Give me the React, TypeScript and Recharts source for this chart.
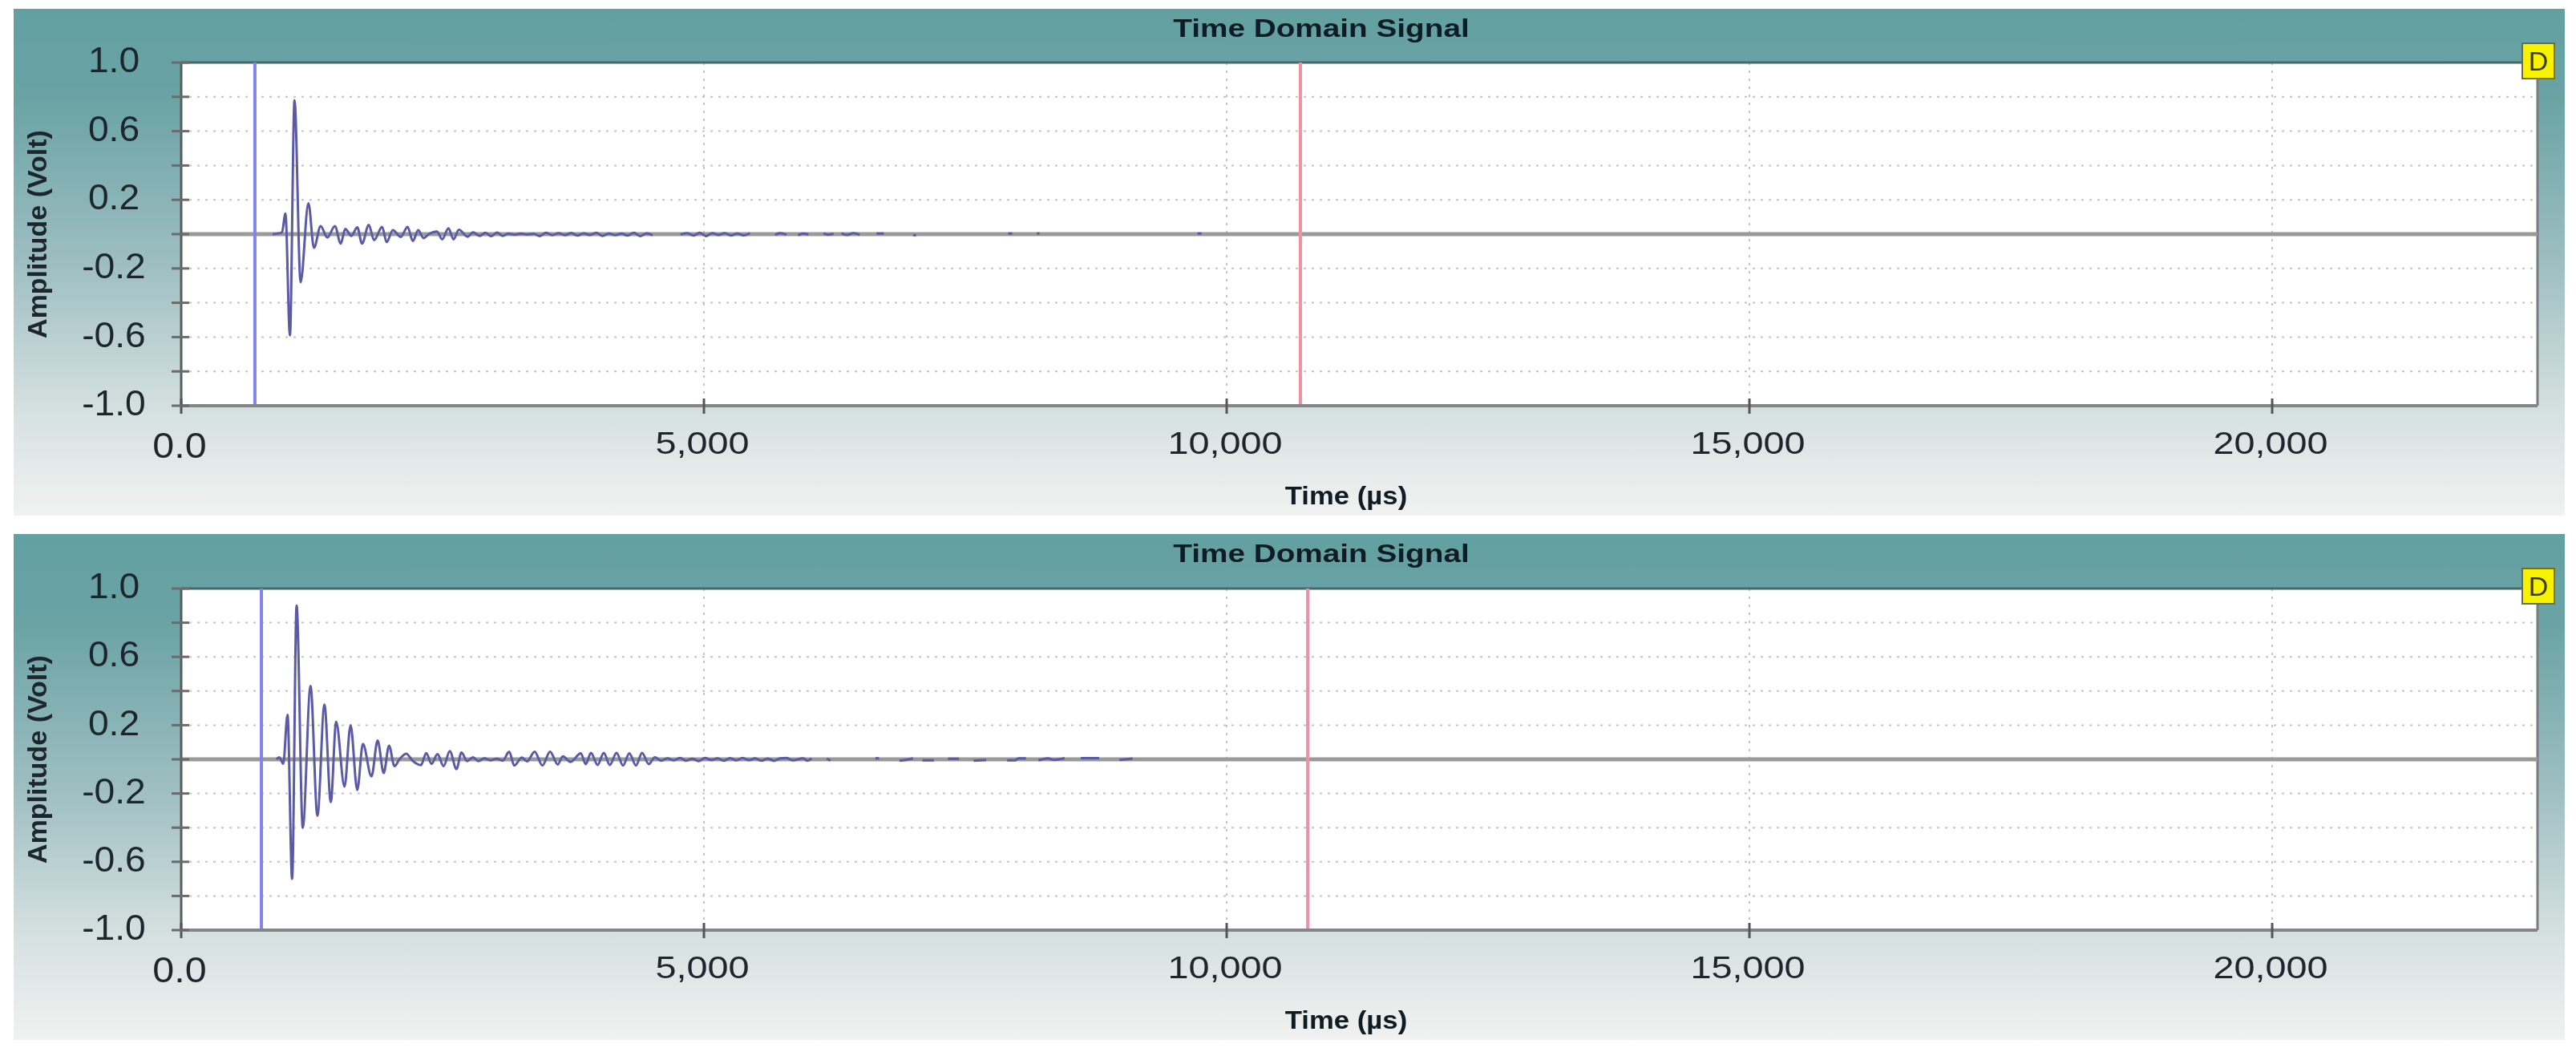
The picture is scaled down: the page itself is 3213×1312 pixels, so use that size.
import React from "react"
import { LineChart, Line, XAxis, YAxis, CartesianGrid, ReferenceLine } from "recharts"

const xTicks = [0, 5000, 10000, 15000, 20000]
const xMax = 22538
const yTicks = [-1, -0.8, -0.6, -0.4, -0.2, 0, 0.2, 0.4, 0.6, 0.8, 1]
const yLabelled = [-1, -0.6, -0.2, 0.2, 0.6, 1]

// null = gap where the trace hides in the zero line
const topTimes = [
  874, 964, 997, 1040, 1084, 1142, 1217, 1270, 1334, 1398, 1470, 1526, 1569, 1628, 1684, 1730, 1794, 1845, 1922, 1965,
  2024, 2101, 2165, 2216, 2267, 2318, 2369, 2446, 2497, 2556, 2605, 2656, 2740, 2791, 2855, 2910, 2965, 3020, 3075,
  3130, 3190, 3250, 3310, 3370, 3430, 3490, 3550, 3610, 3670, 3730, 3790, 3850, 3910, 3970, 4030, 4090, 4150, 4210,
  4270, 4330, 4390, 4450, 4510, 4640, 4775, 4840, 4900, 4960, 5020, 5080, 5140, 5200, 5260, 5320, 5380, 5440, 5560,
  5680, 5730, 5790, 5850, 5900, 5950, 6000, 6070, 6144, 6190, 6240, 6280, 6315, 6370, 6430, 6490, 6570, 6650, 6690,
  6720, 6860, 7000, 7030, 7500, 7910, 7950, 8070, 8185, 8210, 9000, 9720, 9760,
]
const topVolts = [
  0, 0.01, 0.12, -0.59, 0.78, -0.28, 0.18, -0.08, 0.047, -0.02, 0.047, -0.055, 0.03, -0.01, 0.04, -0.055, 0.054,
  -0.035, 0.042, -0.047, 0.023, -0.016, 0.042, -0.04, 0.023, -0.023, 0, 0.015, -0.03, 0.034, -0.03, 0.026, -0.015,
  0.01, -0.01, 0.008, -0.012, 0.009, -0.01, 0.003, -0.003, 0.003, -0.002, 0.002, -0.012, 0.008, -0.006, 0.006, -0.006,
  0.007, -0.008, 0.005, -0.005, 0.008, -0.01, 0.004, -0.006, 0.003, -0.008, 0.008, -0.012, 0.005, -0.006, null, -0.002,
  0.006, -0.008, 0.008, -0.012, 0.006, -0.005, 0.006, -0.008, 0.004, -0.007, 0.006, null, -0.004, 0.006, -0.003, null,
  -0.006, 0.004, -0.002, null, 0.004, -0.003, 0.002, null, 0.005, -0.005, 0.006, -0.004, null, 0.004, 0.004, 0.004,
  null, -0.006, -0.006, null, 0.004, 0.004, null, 0.003, 0.003, null, 0.004, 0.004,
]

const bottomTimes = [
  912, 938, 976, 1017, 1061, 1104, 1163, 1237, 1303, 1370, 1431, 1482, 1562, 1620, 1684, 1738, 1820, 1879, 1937, 1988,
  2040, 2088, 2152, 2216, 2293, 2344, 2395, 2451, 2510, 2569, 2633, 2681, 2735, 2791, 2842, 2900, 2960, 3020, 3075,
  3137, 3186, 3259, 3308, 3381, 3455, 3528, 3602, 3650, 3724, 3822, 3870, 3919, 3983, 4042, 4100, 4164, 4227, 4286,
  4350, 4408, 4472, 4531, 4590, 4650, 4710, 4770, 4830, 4890, 4950, 5010, 5070, 5130, 5190, 5250, 5310, 5370, 5430,
  5490, 5550, 5610, 5670, 5730, 5790, 5850, 5949, 5990, 6030, 6100, 6175, 6210, 6400, 6640, 6675, 6810, 6870, 6930,
  7000, 7060, 7090, 7200, 7300, 7335, 7440, 7545, 7580, 7700, 7865, 7900, 7975, 8010, 8080, 8150, 8200, 8290, 8345,
  8450, 8570, 8605, 8780, 8940, 8975, 9100, 9200, 9235,
]
const bottomVolts = [
  0, 0.012, -0.026, 0.26, -0.7, 0.9, -0.4, 0.43, -0.33, 0.32, -0.25, 0.22, -0.16, 0.2, -0.18, 0.09, -0.1, 0.11, -0.08,
  0.08, -0.04, 0, 0.033, -0.01, -0.034, 0.036, -0.026, 0.03, -0.04, 0.048, -0.057, 0.04, -0.01, 0.012, -0.01, 0.006,
  -0.006, 0.004, -0.008, 0.045, -0.036, 0.01, -0.012, 0.045, -0.036, 0.045, -0.03, 0.018, -0.015, 0.035, -0.028, 0.037,
  -0.033, 0.037, -0.033, 0.037, -0.036, 0.035, -0.036, 0.037, -0.028, 0.012, -0.008, 0.006, -0.006, 0.008, -0.008,
  0.004, -0.01, 0.008, -0.004, 0.006, -0.008, 0.007, -0.006, 0.008, -0.005, 0.006, -0.008, 0.005, -0.009, 0.006,
  0.008, -0.006, 0.006, -0.008, 0.005, null, 0.004, -0.006, null, 0.006, 0.006, null, -0.008, -0.004, 0.006, null,
  -0.006, -0.006, null, 0.003, 0.003, null, -0.008, -0.004, null, -0.006, -0.006, 0.006, 0.006, null, -0.006, 0.006,
  -0.003, 0.007, null, 0.007, 0.007, null, -0.004, 0.005, null, 0.006, 0.006,
]

const topBlue = 705
const topRed = 10705
const bottomBlue = 767
const bottomRed = 10775

const FONT = "'Liberation Sans', Arial, sans-serif"
const INK = "#1c262c"

function XTick({ x, y, payload }: any) {
  const isZero = payload.value === 0
  const label = isZero ? "0.0" : payload.value.toLocaleString("en-US")
  return (
    <g>
      <line x1={x} x2={x} y1={y - 9} y2={y + 10} stroke="#555" strokeWidth={3} />
      <text
        transform={`translate(${x - 2},${y + (isZero ? 50 : 46)}) scale(${isZero ? 1.1 : 1.2},1)`}
        textAnchor="middle"
        dominantBaseline="central"
        fontFamily={FONT}
        fontSize={isZero ? 44 : 39}
        fill={INK}
      >
        {label}
      </text>
    </g>
  )
}

function YTick({ x, y, payload }: any) {
  return (
    <g>
      <line x1={x - 12} x2={x + 10} y1={y} y2={y} stroke="#6b6b6b" strokeWidth={3} />
      {yLabelled.includes(payload.value) && (
        <text
          transform={`translate(${x - 84},${y - 3}) scale(1.05,1)`}
          textAnchor="middle"
          dominantBaseline="central"
          fontFamily={FONT}
          fontSize={44}
          fill={INK}
        >
          {payload.value.toFixed(1)}
        </text>
      )}
    </g>
  )
}

function Panel({ top, height, plotTop, times, volts, blue, red }: any) {
  const data = times.map((t: number, i: number) => ({ t, v: volts[i] }))
  const plotH = height - plotTop - 137
  return (
    <div
      style={{
        position: "absolute",
        left: 17,
        top,
        width: 3182,
        height,
        background: "linear-gradient(#62a0a2 0%, #6ba3a5 18%, #9dbec1 50%, #d3dfdf 78%, #f1f2f1 100%)",
      }}
    >
      <LineChart width={3182} height={height} data={data} margin={{ top: plotTop, right: 34, bottom: 0, left: 0 }}>
        <CartesianGrid fill="#ffffff" stroke="#c4c4c4" strokeWidth={2} strokeDasharray="3 7" />
        <XAxis
          dataKey="t"
          type="number"
          domain={[0, xMax]}
          ticks={xTicks}
          interval={0}
          height={137}
          tickSize={0}
          tickMargin={0}
          axisLine={{ stroke: "#858585", strokeWidth: 4 }}
          tick={(p: any) => <XTick {...p} />}
        />
        <YAxis
          type="number"
          domain={[-1, 1]}
          ticks={yTicks}
          interval={0}
          width={209}
          tickSize={0}
          tickMargin={0}
          axisLine={{ stroke: "#5c5c5c", strokeWidth: 3 }}
          tick={(p: any) => <YTick {...p} />}
        />
        <ReferenceLine y={1} stroke="#45686a" strokeWidth={3} />
        <ReferenceLine x={xMax} stroke="#7c7c7c" strokeWidth={3} />
        <ReferenceLine y={0} stroke="#9a9a9a" strokeWidth={5} />
        <ReferenceLine x={blue} stroke="#8383ee" strokeWidth={4} />
        <ReferenceLine x={red} stroke="#f091a3" strokeWidth={4} />
        <Line
          dataKey="v"
          type="monotone"
          stroke="#5a5aa6"
          strokeWidth={3}
          dot={false}
          connectNulls={false}
          isAnimationActive={false}
        />
        <text
          transform={`translate(30,${plotTop + plotH / 2}) rotate(-90) scale(1.03,1)`}
          textAnchor="middle"
          dominantBaseline="central"
          fontFamily={FONT}
          fontWeight="bold"
          fontSize={33}
          fill={INK}
        >
          Amplitude (Volt)
        </text>
        <text
          transform={`translate(1631,24) scale(1.25,1)`}
          textAnchor="middle"
          dominantBaseline="central"
          fontFamily={FONT}
          fontWeight="bold"
          fontSize={31}
          fill="#101c24"
        >
          Time Domain Signal
        </text>
        <text
          transform={`translate(1662,${height - 25}) scale(1.12,1)`}
          textAnchor="middle"
          dominantBaseline="central"
          fontFamily={FONT}
          fontWeight="bold"
          fontSize={31}
          fill="#101c24"
        >
          Time (µs)
        </text>
      </LineChart>
      <div
        style={{
          position: "absolute",
          left: 3128,
          top: 42,
          width: 38,
          height: 42,
          background: "#f7f200",
          border: "2px solid #6e6e3a",
          color: "#3c3c10",
          fontFamily: FONT,
          fontSize: 34,
          lineHeight: "42px",
          textAlign: "center",
        }}
      >
        D
      </div>
    </div>
  )
}

export default function App() {
  return (
    <div style={{ position: "absolute", left: 0, top: 0, width: 3213, height: 1312, background: "#fff", filter: "blur(0.7px)" }}>
      <Panel top={11} height={632} plotTop={67} times={topTimes} volts={topVolts} blue={topBlue} red={topRed} />
      <Panel top={666} height={631} plotTop={68} times={bottomTimes} volts={bottomVolts} blue={bottomBlue} red={bottomRed} />
    </div>
  )
}
